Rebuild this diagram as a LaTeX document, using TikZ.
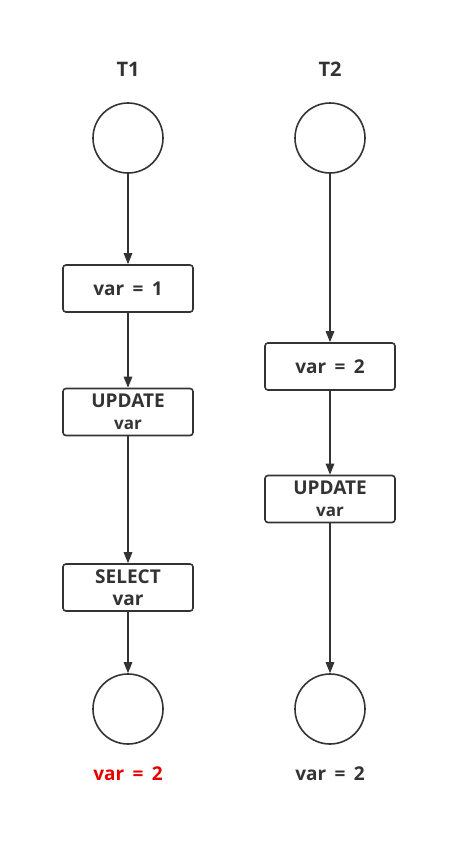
\documentclass[tikz,border=0pt]{standalone}
\usepackage{fontspec}
\setmainfont{Open Sans}[WordSpace=1.7]
\usetikzlibrary{arrows.meta}
\definecolor{ink}{HTML}{333333}
\definecolor{redtxt}{HTML}{E80000}
\begin{document}
\begin{tikzpicture}[x=1pt,y=-1pt,
  stepbox/.style={draw=ink,line width=1.6pt,rounded corners=3pt,minimum width=130pt,minimum height=47pt,inner sep=0pt,align=center,text=ink,font=\bfseries\fontsize{19}{22}\selectfont},
  endcirc/.style={draw=ink,line width=1.6pt,circle,minimum size=70pt,inner sep=0pt},
  lbl/.style={text=ink,font=\bfseries\fontsize{20}{22}\selectfont},
  flow/.style={draw=ink,line width=1.5pt,-{Triangle[length=11pt,width=8.5pt]}}]
\useasboundingbox (0,0) rectangle (472,855);
\node[lbl] (t1) at (128,69) {T1};
\node[lbl] (t2) at (330,69) {T2};
\node[endcirc] (s1) at (128,138) {};
\node[stepbox] (a1) at (128,288.5) {var = 1};
\node[stepbox] (a2) at (128,412) {UPDATE\\{\fontsize{17}{20}\selectfont var}};
\node[stepbox] (a3) at (128,587.5) {SELECT\\var};
\node[endcirc] (e1) at (128,709) {};
\node[text=redtxt,font=\bfseries\fontsize{19}{22}\selectfont] (r1) at (128,774) {var = 2};
\node[endcirc] (s2) at (330,138) {};
\node[stepbox] (b1) at (330,366.5) {var = 2};
\node[stepbox] (b2) at (330,499) {UPDATE\\{\fontsize{17}{20}\selectfont var}};
\node[endcirc] (e2) at (330,709) {};
\node[text=ink,font=\bfseries\fontsize{19}{22}\selectfont] (r2) at (330,774) {var = 2};
\draw[flow] (s1) -- (a1);
\draw[flow] (a1) -- (a2);
\draw[flow] (a2) -- (a3);
\draw[flow] (a3) -- (e1);
\draw[flow] (s2) -- (b1);
\draw[flow] (b1) -- (b2);
\draw[flow] (b2) -- (e2);
\end{tikzpicture}
\end{document}
